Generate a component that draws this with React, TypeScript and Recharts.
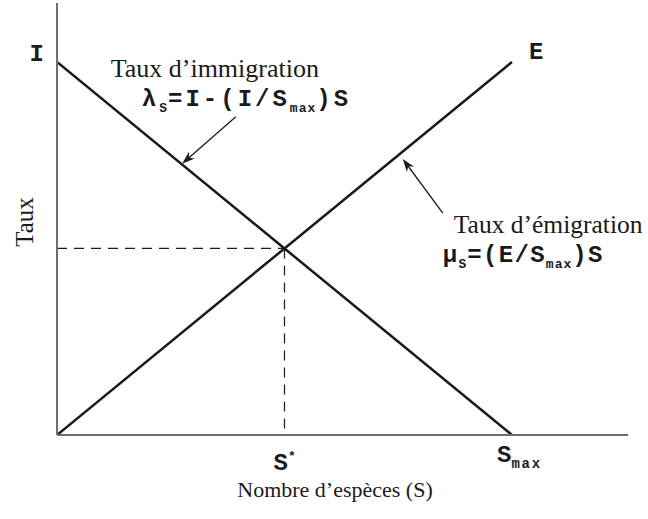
import React from 'react';
import { LineChart, Line, XAxis, YAxis, ReferenceLine, ReferenceDot, Label } from 'recharts';

// ---- data ----
const speciesCount = [0, 5, 10];
const immigrationRate = [10, 5, 0];
const emigrationRate = [0, 5, 10];
const S_MAX = 10;
const S_STAR = 5;
const RATE_MAX = 10;
const EQ_RATE = 5;
const X_DOMAIN_MAX = 12.55;
const Y_DOMAIN_MAX = 11.58;
const xTickValues = [S_STAR, S_MAX];
const yTickValues = [RATE_MAX];
const immArrow = [{ x: 3.93, y: 8.53 }, { x: 2.75, y: 7.27 }];
const emiArrow = [{ x: 8.48, y: 5.95 }, { x: 7.6, y: 7.4 }];
const xAxisTitle = 'Nombre d\u2019esp\u00e8ces (S)';
const yAxisTitle = 'Taux';
const immTitle = 'Taux d\u2019immigration';
const emiTitle = 'Taux d\u2019\u00e9migration';

const data = speciesCount.map((s, i) => ({ s, imm: immigrationRate[i], emi: emigrationRate[i] }));

const SERIF = '"Liberation Serif", "Times New Roman", serif';
const MONO = '"Liberation Mono", "Courier New", monospace';
const AXIS = '#6e6e6e';
const INK = '#1a1a1a';

const Sub = ({ children }: any) => (
  <tspan fontSize={13} dy={6} letterSpacing={1}>{children}</tspan>
);

const XTick = (props: any) => {
  const { x, payload } = props;
  const base = 435;
  if (payload.value === S_STAR) {
    return (
      <text x={x - 11} y={base + 35} fontFamily={MONO} fontWeight="bold" fontSize={24} fill={INK}>
        S<tspan fontSize={13} dy={-10}>*</tspan>
      </text>
    );
  }
  return (
    <text x={x - 15} y={base + 27} fontFamily={MONO} fontWeight="bold" fontSize={24} fill={INK}>
      S<tspan fontSize={14} dy={6} letterSpacing={1.8}>max</tspan>
    </text>
  );
};

const YTick = (props: any) => {
  const { y } = props;
  return (
    <text x={44} y={y - 1} textAnchor="end" fontFamily={MONO} fontWeight="bold" fontSize={24} fill={INK}>
      I
    </text>
  );
};

const ArrowShape = (props: any) => {
  const { x1, y1, x2, y2 } = props;
  const ang = Math.atan2(y2 - y1, x2 - x1);
  const len = 13;
  const w = 4.5;
  const c = Math.cos(ang);
  const s = Math.sin(ang);
  const bx = x2 - len * c;
  const by = y2 - len * s;
  const mx = x2 - len * 0.7 * c;
  const my = y2 - len * 0.7 * s;
  const px = -s * w;
  const py = c * w;
  return (
    <g>
      <line x1={x1} y1={y1} x2={mx} y2={my} stroke={INK} strokeWidth={1.3} />
      <path d={`M${x2},${y2} L${bx + px},${by + py} L${mx},${my} L${bx - px},${by - py} Z`} fill={INK} />
    </g>
  );
};

const ImmText = (props: any) => {
  const { cx, cy } = props;
  return (
    <g>
      <text x={cx - 21} y={cy - 40} textAnchor="middle" fontFamily={SERIF} fontSize={26} fill={INK}>
        {immTitle}
      </text>
      <text x={cx - 94} y={cy - 11} fontFamily={MONO} fontWeight="bold" fontSize={24} fill={INK} letterSpacing={3}>
        λ<Sub>S</Sub><tspan dy={-6}>=I-(I/S</tspan><Sub>max</Sub><tspan dy={-6}>)S</tspan>
      </text>
    </g>
  );
};

const EmiText = (props: any) => {
  const { cx, cy } = props;
  return (
    <g>
      <text x={cx + 11} y={cy + 20} fontFamily={SERIF} fontSize={25.5} fill={INK}>
        {emiTitle}
      </text>
      <text x={cx} y={cy + 49} fontFamily={MONO} fontWeight="bold" fontSize={24} fill={INK} letterSpacing={1.3}>
        μ<Sub>S</Sub><tspan dy={-6}>=(E/S</tspan><Sub>max</Sub><tspan dy={-6}>)S</tspan>
      </text>
    </g>
  );
};

const ELabel = (props: any) => {
  const { cx, cy } = props;
  return (
    <text x={cx + 17} y={cy - 3} fontFamily={MONO} fontWeight="bold" fontSize={24} fill={INK}>
      E
    </text>
  );
};

const XTitle = (props: any) => {
  const vb = props.viewBox || {};
  return (
    <text x={vb.x + 278} y={vb.y + 62} textAnchor="middle" fontFamily={SERIF} fontSize={22} fill={INK}>
      {xAxisTitle}
    </text>
  );
};

const YTitle = () => {
  const cx = 24;
  const cy = 222;
  return (
    <text x={cx} y={cy} transform={`rotate(-90 ${cx} ${cy})`} textAnchor="middle" dominantBaseline="central" fontFamily={SERIF} fontSize={25} fill={INK}>
      {yAxisTitle}
    </text>
  );
};

export default function App() {
  return (
    <div style={{ position: 'absolute', left: 0, top: 0, width: 648, height: 519, background: '#fff' }}>
      <LineChart width={648} height={519} data={data} margin={{ top: 3, right: 20, bottom: 0, left: 0 }}>
        <XAxis
          dataKey="s"
          type="number"
          domain={[0, X_DOMAIN_MAX]}
          ticks={xTickValues}
          tick={<XTick />}
          tickLine={false}
          axisLine={{ stroke: AXIS, strokeWidth: 2 }}
          height={84}
          allowDataOverflow
        >
          <Label content={<XTitle />} />
        </XAxis>
        <YAxis
          type="number"
          domain={[0, Y_DOMAIN_MAX]}
          ticks={yTickValues}
          tick={<YTick />}
          tickLine={false}
          axisLine={{ stroke: AXIS, strokeWidth: 2 }}
          width={57}
          allowDataOverflow
        >
          <Label content={<YTitle />} />
        </YAxis>
        <ReferenceLine segment={[{ x: 0, y: EQ_RATE }, { x: S_STAR, y: EQ_RATE }]} stroke={INK} strokeWidth={1.2} strokeDasharray="10 7" />
        <ReferenceLine segment={[{ x: S_STAR, y: EQ_RATE }, { x: S_STAR, y: 0 }]} stroke={INK} strokeWidth={1.2} strokeDasharray="10 7" />
        <Line dataKey="imm" stroke={INK} strokeWidth={2.5} dot={false} isAnimationActive={false} />
        <Line dataKey="emi" stroke={INK} strokeWidth={2.5} dot={false} isAnimationActive={false} />
        <ReferenceLine segment={immArrow} shape={<ArrowShape />} />
        <ReferenceLine segment={emiArrow} shape={<ArrowShape />} />
        <ReferenceDot x={immArrow[0].x} y={immArrow[0].y} r={0} shape={<ImmText />} />
        <ReferenceDot x={emiArrow[0].x} y={emiArrow[0].y} r={0} shape={<EmiText />} />
        <ReferenceDot x={S_MAX} y={RATE_MAX} r={0} shape={<ELabel />} />
      </LineChart>
    </div>
  );
}
